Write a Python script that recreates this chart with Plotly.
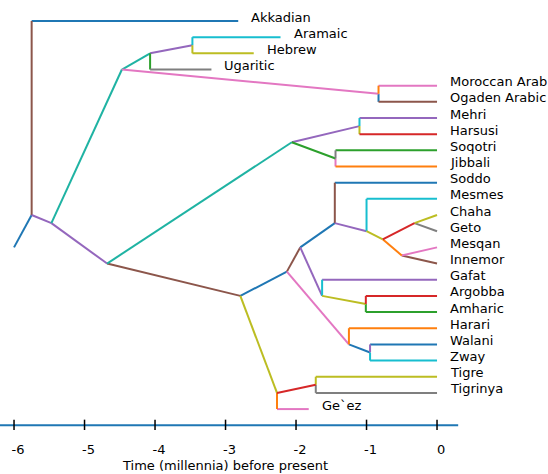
import plotly.graph_objects as go

# ---- data -------------------------------------------------------------
leaf_names = ["Akkadian", "Aramaic", "Hebrew", "Ugaritic", "Moroccan Arab",
              "Ogaden Arabic", "Mehri", "Harsusi", "Soqotri", "Jibbali",
              "Soddo", "Mesmes", "Chaha", "Geto", "Mesqan", "Innemor",
              "Gafat", "Argobba", "Amharic", "Harari", "Walani", "Zway",
              "Tigre", "Tigrinya", "Ge`ez"]
# time (millennia before present) at which each lineage ends
leaf_end = [-2.82, -2.22, -2.60, -3.20, 0, 0, 0, 0, 0, 0, 0, 0, 0, 0, 0, 0,
            0, 0, 0, 0, 0, 0, 0, 0, -1.82]

# internal nodes: name, split time, children
node_names = ["Semitic", "West Semitic", "Central Semitic", "Northwest Semitic",
              "Aramaic-Hebrew", "Arabic", "South Semitic", "Modern South Arabian",
              "Mehri-Harsusi", "Soqotri-Jibbali", "Ethiosemitic",
              "South Ethiosemitic", "Gurage-Amharic", "Gurage", "Mesmes group",
              "West Gurage", "Chaha-Geto", "Mesqan-Innemor", "Amharic group",
              "Argobba-Amharic", "Harari-East Gurage", "Walani-Zway",
              "North Ethiosemitic", "Tigre-Tigrinya"]
node_times = [-5.75, -5.47, -4.47, -4.07, -3.47, -0.83, -4.68, -2.06, -1.10,
              -1.44, -2.79, -2.13, -1.94, -1.45, -1.00, -0.77, -0.32, -0.50,
              -1.63, -1.01, -1.25, -0.95, -2.27, -1.72]
node_children = [
    ["Akkadian", "West Semitic"],
    ["Central Semitic", "South Semitic"],
    ["Northwest Semitic", "Arabic"],
    ["Aramaic-Hebrew", "Ugaritic"],
    ["Aramaic", "Hebrew"],
    ["Moroccan Arab", "Ogaden Arabic"],
    ["Modern South Arabian", "Ethiosemitic"],
    ["Mehri-Harsusi", "Soqotri-Jibbali"],
    ["Mehri", "Harsusi"],
    ["Soqotri", "Jibbali"],
    ["South Ethiosemitic", "North Ethiosemitic"],
    ["Gurage-Amharic", "Harari-East Gurage"],
    ["Gurage", "Amharic group"],
    ["Soddo", "Mesmes group"],
    ["Mesmes", "West Gurage"],
    ["Chaha-Geto", "Mesqan-Innemor"],
    ["Chaha", "Geto"],
    ["Mesqan", "Innemor"],
    ["Gafat", "Argobba-Amharic"],
    ["Argobba", "Amharic"],
    ["Harari", "Walani-Zway"],
    ["Walani", "Zway"],
    ["Tigre-Tigrinya", "Ge`ez"],
    ["Tigre", "Tigrinya"],
]

# stem leading into the root
stem_start_time = -6.0
stem_start_row = 14

tick_values = [-6, -5, -4, -3, -2, -1, 0]
tick_labels = ["-6", "-5", "-4", "-3", "-2", "-1", "0"]
axis_span = [-6.2, 0.3]

# ---- styling ----------------------------------------------------------
C = dict(blue="#1f77b4", orange="#ff7f0e", green="#2ca02c", red="#d62728",
         purple="#9467bd", brown="#8c564b", pink="#e377c2", gray="#7f7f7f",
         olive="#bcbd22", cyan="#17becf", teal="#1fb3a3")

# colour of the branch leading into each internal node
branch_colour = {
    "West Semitic": "purple", "Central Semitic": "teal", "South Semitic": "purple",
    "Northwest Semitic": "teal", "Arabic": "pink", "Aramaic-Hebrew": "purple",
    "Modern South Arabian": "teal", "Ethiosemitic": "brown",
    "Mehri-Harsusi": "purple", "Soqotri-Jibbali": "green",
    "South Ethiosemitic": "blue", "North Ethiosemitic": "olive",
    "Gurage-Amharic": "brown", "Harari-East Gurage": "pink",
    "Gurage": "blue", "Amharic group": "purple", "Mesmes group": "purple",
    "West Gurage": "olive", "Chaha-Geto": "red", "Mesqan-Innemor": "orange",
    "Argobba-Amharic": "olive", "Walani-Zway": "blue", "Tigre-Tigrinya": "red",
}
# (riser colour, tip colour) for each leaf branch
leaf_colour = {
    "Akkadian": ("brown", "blue"), "Aramaic": ("cyan", "cyan"),
    "Hebrew": ("olive", "olive"), "Ugaritic": ("green", "gray"),
    "Moroccan Arab": ("orange", "pink"), "Ogaden Arabic": ("blue", "brown"),
    "Mehri": ("cyan", "purple"), "Harsusi": ("olive", "red"),
    "Soqotri": ("gray", "green"), "Jibbali": ("pink", "orange"),
    "Soddo": ("brown", "blue"), "Mesmes": ("cyan", "cyan"),
    "Chaha": ("olive", "olive"), "Geto": ("gray", "gray"),
    "Mesqan": ("pink", "pink"), "Innemor": ("brown", "brown"),
    "Gafat": ("cyan", "purple"), "Argobba": ("red", "red"),
    "Amharic": ("green", "green"), "Harari": ("orange", "orange"),
    "Walani": ("purple", "blue"), "Zway": ("cyan", "cyan"),
    "Tigre": ("olive", "olive"), "Tigrinya": ("gray", "gray"),
    "Ge`ez": ("orange", "pink"),
}
FONT = "DejaVu Sans"

# ---- tree geometry ----------------------------------------------------
leaf_row = {n: i for i, n in enumerate(leaf_names)}
leaf_time = dict(zip(leaf_names, leaf_end))
node_time = dict(zip(node_names, node_times))
children = dict(zip(node_names, node_children))


def leaves_under(name):
    if name in leaf_row:
        return [leaf_row[name]]
    out = []
    for c in children[name]:
        out += leaves_under(c)
    return out


def row_of(name):
    rows = leaves_under(name)
    return sum(rows) / len(rows)


segments = {}


def add(colour, xs, ys):
    sx, sy = segments.setdefault(colour, ([], []))
    sx.extend(list(xs) + [None])
    sy.extend(list(ys) + [None])


root = node_names[0]
add("blue", [stem_start_time, node_time[root]], [stem_start_row, row_of(root)])

for parent in node_names:
    px, py = node_time[parent], row_of(parent)
    for child in children[parent]:
        if child in leaf_row:
            riser, tip = leaf_colour[child]
            end, ly = leaf_time[child], leaf_row[child]
            if px > -0.6:
                # splits within the last 600 years are drawn as direct diagonals
                add(tip, [px, end], [py, ly])
            else:
                add(riser, [px, px], [py, ly])
                add(tip, [px, end], [ly, ly])
        else:
            add(branch_colour[child], [px, node_time[child]], [py, row_of(child)])

fig = go.Figure()
for colour, (xs, ys) in segments.items():
    fig.add_trace(go.Scatter(x=xs, y=ys, mode="lines",
                             line=dict(color=C[colour], width=2),
                             hoverinfo="skip", showlegend=False))

# time axis drawn as a line with tick marks one row below the last leaf
axis_row = len(leaf_names)
fig.add_trace(go.Scatter(x=axis_span, y=[axis_row, axis_row], mode="lines",
                         line=dict(color=C["blue"], width=2),
                         hoverinfo="skip", showlegend=False))
fig.add_trace(go.Scatter(x=tick_values, y=[axis_row] * len(tick_values),
                         mode="markers",
                         marker=dict(symbol="line-ns", size=8,
                                     line=dict(color="black", width=1.5)),
                         hoverinfo="skip", showlegend=False))

annotations = []
for name, end in zip(leaf_names, leaf_end):
    annotations.append(dict(x=end, y=leaf_row[name], xref="x", yref="y",
                            text=name, showarrow=False, xanchor="left",
                            yanchor="middle", xshift=11, yshift=4,
                            font=dict(family=FONT, size=13, color="black")))
annotations.append(dict(x=0.411, y=-0.104, xref="paper", yref="paper",
                        text="Time (millennia) before present",
                        showarrow=False, xanchor="center", yanchor="bottom",
                        font=dict(family=FONT, size=13, color="black")))

fig.update_layout(
    width=548, height=474,
    margin=dict(l=0, r=0, t=0, b=44),
    plot_bgcolor="white", paper_bgcolor="white",
    annotations=annotations,
    xaxis=dict(range=[-6.199, 1.574], tickvals=tick_values, ticktext=tick_labels,
               showgrid=False, zeroline=False, showline=False, ticks="",
               ticklabelstandoff=10, ticklabelshift=4,
               tickfont=dict(family=FONT, size=13, color="black")),
    yaxis=dict(range=[25.294, -1.2987], visible=False),
)

fig.write_html("out.html")
